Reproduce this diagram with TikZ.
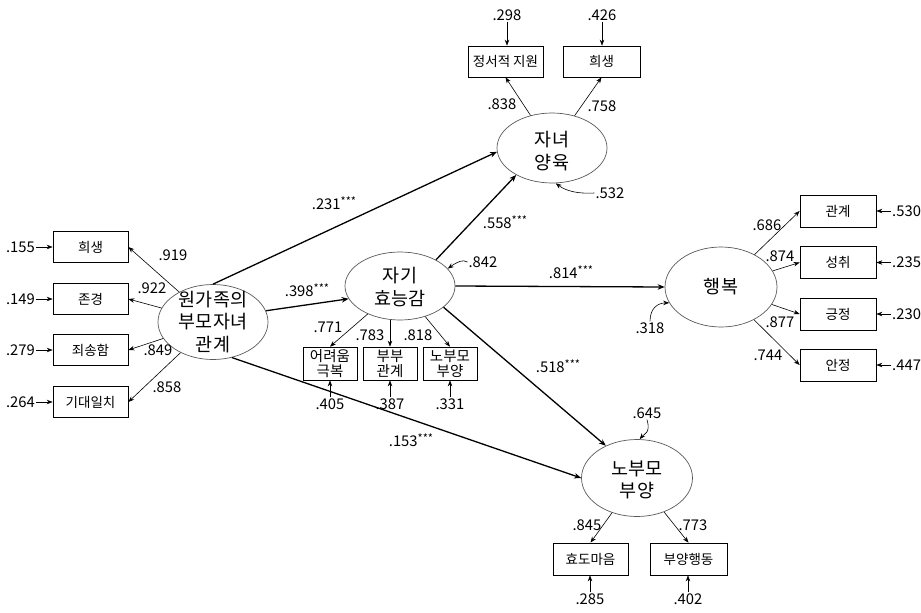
\documentclass[tikz,border=0pt]{standalone}
\usepackage{fontspec}
\setmainfont{Noto Sans CJK KR}
\usetikzlibrary{shapes.geometric,arrows.meta}
\newcommand{\stars}{\raisebox{3.5pt}{\fontsize{11}{11}\selectfont ***}}
\begin{document}
\begin{tikzpicture}[x=1pt,y=-1pt,
  lat/.style={ellipse,draw=black!65,line width=0.7pt,inner sep=0pt},
  lattxt/.style={inner sep=0pt,align=center,font=\fontsize{18.5}{22.5}\selectfont},
  obs/.style={draw,line width=0.7pt,minimum width=75pt,minimum height=31pt,inner sep=0pt,font=\fontsize{13.5}{15}\selectfont},
  obstwo/.style={draw,line width=0.7pt,minimum width=54pt,minimum height=33pt,inner sep=0pt,align=center,font=\fontsize{14.5}{15}\selectfont},
  num/.style={inner sep=1pt,font=\fontsize{14.8}{16}\selectfont},
  ld/.style={-{Stealth[length=6pt,width=4.5pt]},line width=0.6pt},
  pth/.style={-{Stealth[length=7pt,width=5.5pt]},line width=1.3pt},
]
\useasboundingbox (0,0) rectangle (921,613);

% latent variables
\node[lat,minimum width=110pt,minimum height=75pt] (E1) at (213,322) {};
\node[lattxt] (E1t) at (213,322) {원가족의\\부모자녀\\관계};
\node[lat,minimum width=110pt,minimum height=68pt] (E2) at (400,286) {};
\node[lattxt] (E2t) at (400,287) {자기\\효능감};
\node[lat,minimum width=110pt,minimum height=70pt] (E3) at (552,148) {};
\node[lattxt] (E3t) at (552,151) {자녀\\양육};
\node[lat,minimum width=112pt,minimum height=80pt] (E4) at (721,287) {};
\node[lattxt] (E4t) at (721,287) {행복};
\node[lat,minimum width=111pt,minimum height=77pt] (E5) at (637,478) {};
\node[lattxt] (E5t) at (637,480) {노부모\\부양};

% left indicators
\node[obs] (L1) at (90.5,247) {희생};
\node[obs] (L2) at (90.5,299) {존경};
\node[obs] (L3) at (90.5,350) {죄송함};
\node[obs] (L4) at (90.5,402) {기대일치};
\node[num,anchor=east] (eL1) at (36,247) {.155};
\node[num,anchor=east] (eL2) at (36,299) {.149};
\node[num,anchor=east] (eL3) at (36,350) {.279};
\node[num,anchor=east] (eL4) at (36,402) {.264};
\foreach \i in {1,...,4} {\draw[ld] (eL\i.east) -- (L\i.west); \draw[ld] (E1) -- (L\i.east);}
\node[num] (lL1) at (173,255) {.919};
\node[num] (lL2) at (152,288) {.922};
\node[num] (lL3) at (158,350) {.849};
\node[num] (lL4) at (167,387) {.858};

% self-efficacy indicators
\node[obstwo] (S1) at (330,363.5) {어려움\\극복};
\node[obstwo] (S2) at (390,363.5) {부부\\관계};
\node[obstwo] (S3) at (450,363.5) {노부모\\부양};
\draw[ld] (E2) -- (S1.north);
\draw[ld] (S2.north |- E2.south) -- (S2.north);
\draw[ld] (E2) -- (S3.north);
\node[num] (lS1) at (328,327) {.771};
\node[num] (lS2) at (370,335) {.783};
\node[num] (lS3) at (418,335) {.818};
\node[num] (eS1) at (330,404) {.405};
\node[num] (eS2) at (390,404) {.387};
\node[num] (eS3) at (450,404) {.331};
\foreach \i in {1,2,3} {\draw[ld] (eS\i.north) -- (S\i.south);}
\node[num] (eE2) at (483,262) {.842};
\draw[ld] (eE2.west) .. controls (463,259) and (457,262) .. (E2.20);

% child rearing indicators
\node[obs] (T1) at (505.5,61.5) {정서적 지원};
\node[obs,minimum width=77pt] (T2) at (601.5,61.5) {희생};
\node[num] (eT1) at (507,15) {.298};
\node[num] (eT2) at (602,15) {.426};
\draw[ld] (eT1.south) -- (eT1.south |- T1.north);
\draw[ld] (eT2.south) -- (eT2.south |- T2.north);
\draw[ld] (E3) -- (T1.south);
\draw[ld] (E3) -- (T2.south);
\node[num] (lT1) at (502,104) {.838};
\node[num] (lT2) at (602,106) {.758};
\node[num] (eE3) at (610,193) {.532};
\draw[ld] (eE3.west) .. controls (578,194) and (566,191) .. (E3.-84);

% happiness indicators
\node[obs,minimum width=76pt,minimum height=32pt] (R1) at (838,211) {관계};
\node[obs,minimum width=76pt,minimum height=32pt] (R2) at (838,262.5) {성취};
\node[obs,minimum width=76pt,minimum height=32pt] (R3) at (838,314) {긍정};
\node[obs,minimum width=76pt,minimum height=32pt] (R4) at (838,365) {안정};
\node[num,anchor=west] (eR1) at (891,211) {.530};
\node[num,anchor=west] (eR2) at (891,262.5) {.235};
\node[num,anchor=west] (eR3) at (891,314) {.230};
\node[num,anchor=west] (eR4) at (891,365) {.447};
\foreach \i in {1,...,4} {\draw[ld] (eR\i.west) -- (R\i.east); \draw[ld] (E4) -- (R\i.west);}
\node[num] (lR1) at (767,225) {.686};
\node[num] (lR2) at (780,256) {.874};
\node[num] (lR3) at (780,322) {.877};
\node[num] (lR4) at (768,355) {.744};
\node[num] (eE4) at (650,328) {.318};
\draw[ld] (eE4.north) .. controls (650,308) and (658,303) .. (E4.197);

% parent support indicators
\node[obs,minimum height=32pt] (B1) at (590.5,559) {효도마음};
\node[obs,minimum width=77pt,minimum height=32pt] (B2) at (688.5,559) {부양행동};
\draw[ld] (E5) -- (B1.north);
\draw[ld] (E5) -- (B2.north);
\node[num] (lB1) at (587,525) {.845};
\node[num] (lB2) at (693,525) {.773};
\node[num] (eB1) at (590,599) {.285};
\node[num] (eB2) at (688,599) {.402};
\draw[ld] (eB1.north) -- (eB1.north |- B1.south);
\draw[ld] (eB2.north) -- (eB2.north |- B2.south);
\node[num] (eE5) at (647,413) {.645};
\draw[ld] (eE5.south) .. controls (651,433) and (644,434) .. (E5.86);

% structural paths
\draw[pth] (E1.north) -- (E3.184);
\draw[pth] (E1.12) -- (E2.194);
\draw[pth] (E2.36) -- (E3.217);
\draw[pth] (E2.east) -- (E4.west);
\draw[pth] (E2.334) -- (E5.134);
\draw[pth] (E1.298) -- (E5.west);
\node[num] (p1) at (334,203) {.231\stars};
\node[num] (p2) at (307,290) {.398\stars};
\node[num] (p3) at (505,222) {.558\stars};
\node[num] (p4) at (571,272) {.814\stars};
\node[num] (p5) at (558,366) {.518\stars};
\node[num] (p6) at (411,440) {.153\stars};
\end{tikzpicture}
\end{document}
